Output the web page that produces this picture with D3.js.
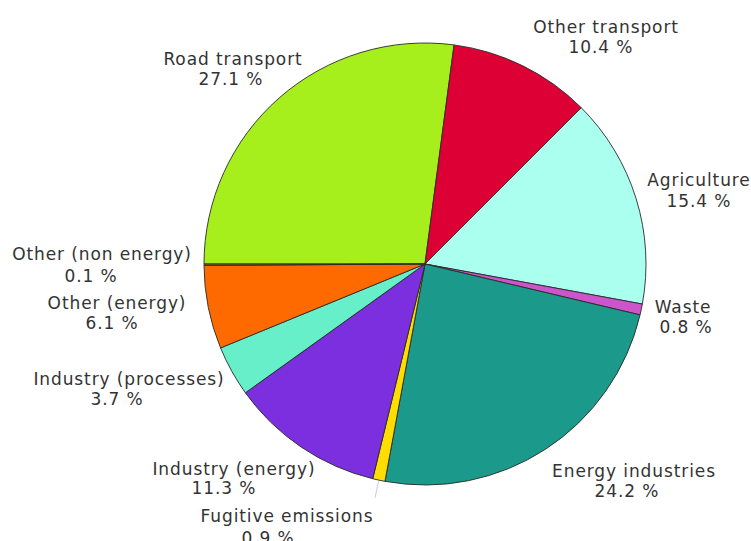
<!DOCTYPE html>
<html>
<head>
<meta charset="utf-8">
<script src="https://cdn.jsdelivr.net/npm/d3@7/dist/d3.min.js"></script>
<style>
  html, body { margin: 0; padding: 0; background: #ffffff; }
  svg { display: block; }
  text { font-family: Verdana, "DejaVu Sans", sans-serif; fill: #333333; }
</style>
</head>
<body>
<svg id="chart" width="751" height="541"></svg>
<script>
// Data (clockwise, starting at 9 o'clock)
const categories = [
  "Road transport", "Other transport", "Agriculture", "Waste",
  "Energy industries", "Fugitive emissions", "Industry (energy)",
  "Industry (processes)", "Other (energy)", "Other (non energy)"
];
const shares = [27.1, 10.4, 15.4, 0.8, 24.2, 0.9, 11.3, 3.7, 6.1, 0.1];
const colors = [
  "#a6ef1c", "#dc0034", "#aaffee", "#cc55cc", "#1b998b",
  "#ffdd00", "#7b2fdf", "#66efc9", "#ff6a00", "#8a6a2a"
];

// Label layout (annotation positions: name line centre x / baseline, value line centre x / baseline)
const labelLayout = [
  [233, 65, 231, 85],
  [606, 33, 601, 53],
  [699, 186, 699, 207],
  [683, 313, 686, 333],
  [634, 477, 627, 497],
  [287, 522, 268, 544],
  [234, 475, 224, 494],
  [129, 385, 117, 405],
  [117, 309, 112, 329],
  [102, 260, 91, 282]
];

const svg = d3.select("#chart");
const cx = 425, cy = 264, R = 221;

const pie = d3.pie()
  .value(d => d.value)
  .sort(null)
  .startAngle(-Math.PI / 2)
  .endAngle(3 * Math.PI / 2);

const data = categories.map((c, i) => ({ name: c, value: shares[i], color: colors[i], layout: labelLayout[i] }));
const arcs = pie(data);
const arc = d3.arc().innerRadius(0).outerRadius(R);

const g = svg.append("g").attr("transform", `translate(${cx},${cy})`);
g.selectAll("path.slice")
  .data(arcs)
  .join("path")
  .attr("class", "slice")
  .attr("d", arc)
  .attr("fill", d => d.data.color)
  .attr("stroke", "#2a2a2a")
  .attr("stroke-width", 0.9)
  .attr("stroke-linejoin", "round");

// Leader line for the small "Fugitive emissions" slice
const fug = arcs[5];
const midA = (fug.startAngle + fug.endAngle) / 2;
const p1 = [Math.sin(midA) * (R + 1), -Math.cos(midA) * (R + 1)];
const p2 = [Math.sin(midA) * (R + 18), -Math.cos(midA) * (R + 18)];
g.append("line")
  .attr("x1", p1[0]).attr("y1", p1[1])
  .attr("x2", p2[0]).attr("y2", p2[1])
  .attr("stroke", "#c8c8ee")
  .attr("stroke-width", 1);

// Labels
const labels = svg.append("g");
arcs.forEach(d => {
  const L = d.data.layout;
  labels.append("text")
    .attr("x", L[0]).attr("y", L[1])
    .attr("text-anchor", "middle")
    .attr("font-size", 17)
    .attr("letter-spacing", 0.9)
    .text(d.data.name);
  labels.append("text")
    .attr("x", L[2]).attr("y", L[3])
    .attr("text-anchor", "middle")
    .attr("font-size", 17)
    .attr("letter-spacing", 0.9)
    .text(d3.format(".1f")(d.data.value) + " %");
});
</script>
</body>
</html>
